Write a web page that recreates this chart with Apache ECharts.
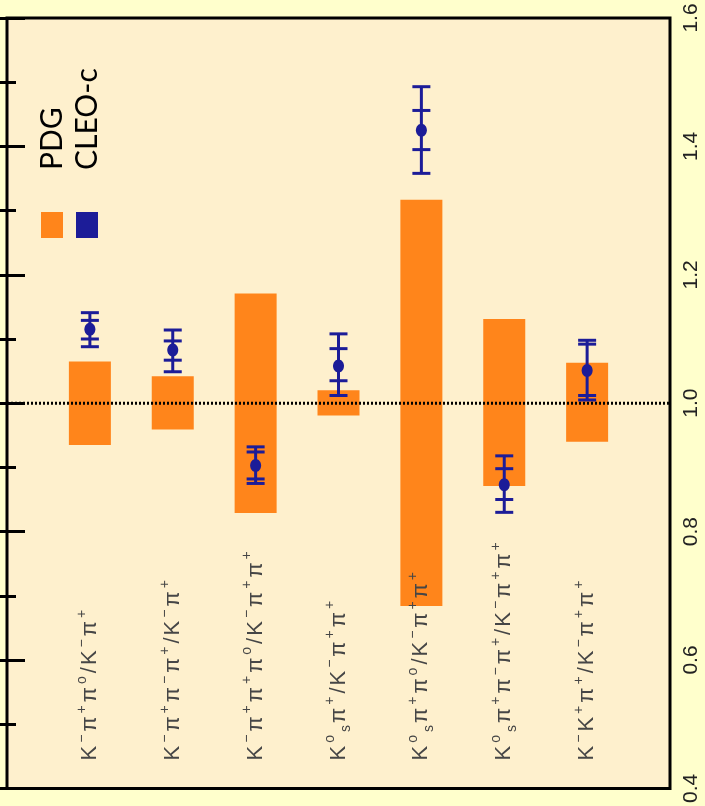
<!DOCTYPE html>
<html><head><meta charset="utf-8">
<script src="https://cdn.jsdelivr.net/npm/echarts@6/dist/echarts.min.js"></script>
<style>html,body{margin:0;padding:0;background:#FFFFCC;} #c{width:705px;height:806px;}</style>
</head><body><div id="c"></div>
<script>
// ---- data ----
const categories = [
  'K^−π^+π^o/K^−π^+',
  'K^−π^+π^−π^+/K^−π^+',
  'K^−π^+π^+π^o/K^−π^+π^+',
  'K^o_sπ^+/K^−π^+π^+',
  'K^o_sπ^+π^o/K^−π^+π^+',
  'K^o_sπ^+π^−π^+/K^−π^+π^+',
  'K^−K^+π^+/K^−π^+π^+'
];
const categoryPos = [1, 2, 3, 4, 5, 6, 7];
const pdgLow  = [0.935, 0.959, 0.829, 0.981, 0.684, 0.871, 0.940];
const pdgHigh = [1.065, 1.042, 1.171, 1.020, 1.317, 1.131, 1.063];
const cleoVal      = [1.115, 1.083, 0.903, 1.058, 1.425, 0.873, 1.051];
const cleoStatLow  = [1.100, 1.067, 0.882, 1.035, 1.395, 0.850, 1.012];
const cleoStatHigh = [1.129, 1.097, 0.924, 1.085, 1.456, 0.898, 1.092];
const cleoTotLow   = [1.088, 1.049, 0.875, 1.012, 1.358, 0.830, 1.005];
const cleoTotHigh  = [1.141, 1.114, 0.932, 1.108, 1.493, 0.918, 1.098];
const yTicks = { min: 0.4, max: 1.6, interval: 0.2 };
const referenceValue = 1.0;
const legendNames = ['PDG', 'CLEO-c'];

// ---- styles ----
const ORANGE = '#FF851B', BLUE = '#1C1C98';

function toRich(s) {
  let out = '';
  for (let i = 0; i < s.length; i++) {
    const c = s[i];
    if (c === '^') { out += '{sp|' + s[++i] + '}'; }
    else if (c === '_') { out += '{sb|' + s[++i] + '}'; }
    else { out += '{n|' + c + '}'; }
  }
  return out;
}
const richLabels = categories.map(toRich);

const chart = echarts.init(document.getElementById('c'));
const tickCommon = {
  axisLine: { show: false },
  axisTick: { show: true, inside: true, length: 18, lineStyle: { color: '#000', width: 3 } },
  minorTick: { show: true, splitNumber: 2, length: 9, lineStyle: { color: '#000', width: 3 } },
  splitLine: { show: false },
  minorSplitLine: { show: false }
};
chart.setOption({
  animation: false,
  backgroundColor: '#FFFFCC',
  grid: { left: 7, right: 35, top: 18, bottom: 10, show: true, backgroundColor: '#FEF0CD', borderColor: '#000', borderWidth: 3 },
  xAxis: {
    type: 'value', min: 0, max: 8, interval: 1, z: 6,
    axisLine: { show: false }, axisTick: { show: false }, splitLine: { show: false },
    axisLabel: {
      inside: true, rotate: 90, margin: 27, align: 'left', verticalAlign: 'middle',
      formatter: v => (v >= 1 && v <= 7) ? richLabels[v - 1] : '',
      rich: {
        n: { fontFamily: 'Liberation Sans', fontSize: 22, color: '#464646', lineHeight: 30, padding: [0, 1] },
        sp: { fontFamily: 'Liberation Sans', fontSize: 14, color: '#464646', lineHeight: 15, verticalAlign: 'top', padding: [0, 2] },
        sb: { fontFamily: 'Liberation Sans', fontSize: 14, color: '#464646', lineHeight: 15, verticalAlign: 'bottom', padding: [0, 1] }
      }
    }
  },
  yAxis: [
    Object.assign({
      type: 'value', position: 'right', min: yTicks.min, max: yTicks.max, interval: yTicks.interval,
      axisLabel: { rotate: 90, margin: 11, align: 'center', verticalAlign: 'top', fontSize: 21, color: '#222',
        fontFamily: 'Liberation Sans', formatter: v => v.toFixed(1) }
    }, tickCommon),
    Object.assign({
      type: 'value', position: 'left', min: yTicks.min, max: yTicks.max, interval: yTicks.interval,
      axisLabel: { show: false }
    }, tickCommon)
  ],
  graphic: [
    { type: 'text', x: 52, y: 170, rotation: Math.PI / 2, style: { text: legendNames[0], font: '30px Lato', fill: '#000', textAlign: 'left', textVerticalAlign: 'middle' } },
    { type: 'text', x: 87, y: 170, rotation: Math.PI / 2, style: { text: legendNames[1], font: '30px Lato', fill: '#000', textAlign: 'left', textVerticalAlign: 'middle' } },
    { type: 'rect', shape: { x: 41, y: 212, width: 22, height: 26 }, style: { fill: ORANGE } },
    { type: 'rect', shape: { x: 76, y: 212, width: 22, height: 26 }, style: { fill: BLUE } }
  ],
  series: [
    {
      name: 'PDG', type: 'custom', z: 2,
      encode: { x: 0, y: [1, 2] },
      data: categoryPos.map((x, i) => [x, pdgLow[i], pdgHigh[i]]),
      renderItem: (params, api) => {
        const top = api.coord([api.value(0), api.value(2)]);
        const bot = api.coord([api.value(0), api.value(1)]);
        const w = 42;
        return { type: 'rect', shape: { x: top[0] - w / 2, y: top[1], width: w, height: bot[1] - top[1] }, style: { fill: ORANGE } };
      }
    },
    {
      name: 'ref', type: 'line', z: 3, symbol: 'none', silent: true,
      data: [[0, referenceValue], [8, referenceValue]],
      lineStyle: { color: '#000', width: 3, type: [2, 2] }
    },
    {
      name: 'CLEO-c', type: 'custom', z: 4,
      encode: { x: 0, y: [1, 2, 3, 4, 5] },
      data: categoryPos.map((x, i) => [x, cleoVal[i], cleoStatLow[i], cleoStatHigh[i], cleoTotLow[i], cleoTotHigh[i]]),
      renderItem: (params, api) => {
        const x = api.value(0);
        const c = api.coord([x, api.value(1)]);
        const sl = api.coord([x, api.value(2)]), sh = api.coord([x, api.value(3)]);
        const tl = api.coord([x, api.value(4)]), th = api.coord([x, api.value(5)]);
        const cw = 9;
        const ls = { stroke: BLUE, lineWidth: 3 };
        const cap = p => ({ type: 'line', shape: { x1: p[0] - cw, y1: p[1], x2: p[0] + cw, y2: p[1] }, style: ls });
        return { type: 'group', children: [
          { type: 'line', shape: { x1: c[0], y1: th[1], x2: c[0], y2: tl[1] }, style: ls },
          cap(sl), cap(sh), cap(tl), cap(th),
          { type: 'ellipse', shape: { cx: c[0], cy: c[1], rx: 5.5, ry: 6.5 }, style: { fill: BLUE } }
        ] };
      }
    }
  ]
});
</script></body></html>
